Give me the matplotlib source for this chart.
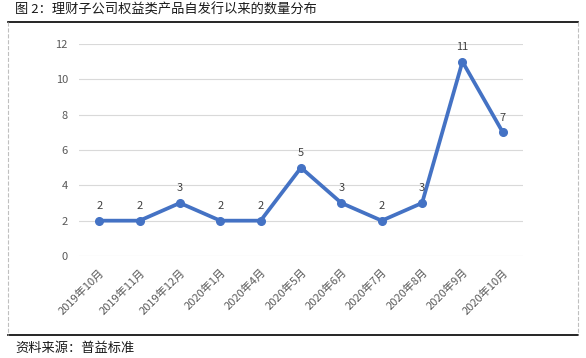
import matplotlib.pyplot as plt
from matplotlib.lines import Line2D

plt.rcParams['font.family'] = ['Noto Sans CJK SC', 'DejaVu Sans']

# data
months = ['2019年10月', '2019年11月', '2019年12月', '2020年1月', '2020年4月',
          '2020年5月', '2020年6月', '2020年7月', '2020年8月', '2020年9月', '2020年10月']
counts = [2, 2, 3, 2, 2, 5, 3, 2, 3, 11, 7]

fig = plt.figure(figsize=(5.86, 3.58), dpi=100)
ax = fig.add_axes([79/586, 1-256/358, (523-79)/586, (256-44)/358])

x = range(len(months))
ax.plot(x, counts, color='#4472C4', lw=2.7, marker='o', ms=5.5, solid_capstyle='round')
for xi, v in zip(x, counts):
    ax.annotate(str(v), (xi, v), xytext=(0, 7), textcoords='offset points',
                ha='center', va='bottom', fontsize=8, color='#404040')

ax.set_xlim(-0.5, len(months) - 0.5)
ax.set_ylim(0, 12)
ax.set_yticks(range(0, 13, 2))
ax.set_xticks(list(x))
ax.set_xticklabels(months, rotation=45, ha='right', rotation_mode='anchor')
ax.tick_params(length=0, labelsize=8, labelcolor='#595959', pad=8)
ax.grid(axis='y', color='#d9d9d9', lw=0.8)
ax.set_axisbelow(True)
for s in ax.spines.values():
    s.set_visible(False)

# outer frame
fig.add_artist(Line2D([8/586, 578/586], [1-22/358, 1-22/358], color='black', lw=1.2))
fig.add_artist(Line2D([8/586, 578/586], [1-335/358, 1-335/358], color='black', lw=1.2))
fig.add_artist(Line2D([8/586, 8/586], [1-22/358, 1-335/358], color='#bfbfbf', lw=0.8, ls='--'))
fig.add_artist(Line2D([578/586, 578/586], [1-22/358, 1-335/358], color='#bfbfbf', lw=0.8, ls='--'))

fig.text(15/586, 1-10/358, '图 2：理财子公司权益类产品自发行以来的数量分布',
         fontsize=9.5, va='center', ha='left', color='#1a1a1a')
fig.text(15/586, 1-348/358, '资料来源：普益标准', fontsize=9.5, va='center', ha='left', color='#1a1a1a')

fig.savefig('out.png', dpi=100)
